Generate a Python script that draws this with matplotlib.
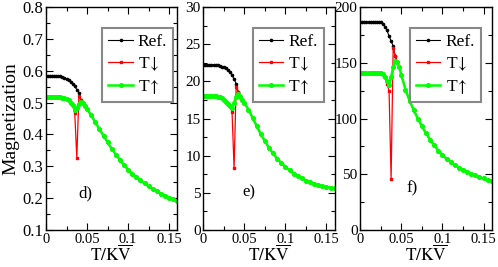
import numpy as np
import matplotlib.pyplot as plt
from matplotlib.ticker import MultipleLocator, FormatStrFormatter

plt.rcParams['font.family'] = ['Liberation Serif', 'DejaVu Serif']
plt.rcParams['mathtext.fontset'] = 'stix'

# temperature grid (T/KV)
T = [0, 0.0025, 0.005, 0.0075, 0.01, 0.0125, 0.015, 0.0175, 0.02, 0.0225,
     0.025, 0.0275, 0.03, 0.0325, 0.035, 0.0375, 0.04, 0.0425, 0.045, 0.0475,
     0.05, 0.055, 0.06, 0.065, 0.07, 0.075, 0.08, 0.085, 0.09, 0.095, 0.1,
     0.105, 0.11, 0.115, 0.12, 0.125, 0.13, 0.135, 0.14, 0.145, 0.15, 0.155, 0.16]

# panel d)
ref_d = [0.585, 0.585, 0.585, 0.585, 0.585, 0.584, 0.583, 0.582, 0.580, 0.578,
         0.575, 0.571, 0.566, 0.559, 0.551, 0.541, 0.531, 0.508, 0.499, 0.490,
         0.480, 0.460, 0.438, 0.417, 0.396, 0.375, 0.355, 0.337, 0.320, 0.304,
         0.289, 0.276, 0.265, 0.256, 0.246, 0.237, 0.229, 0.222, 0.214, 0.208,
         0.202, 0.196, 0.190]
down_d = [0.518, 0.518, 0.518, 0.518, 0.518, 0.518, 0.518, 0.517, 0.516, 0.514,
          0.511, 0.507, 0.500, 0.491, 0.466, 0.327, 0.520, 0.508, 0.499, 0.490,
          0.480, 0.460, 0.438, 0.417, 0.396, 0.375, 0.355, 0.337, 0.320, 0.304,
          0.289, 0.276, 0.265, 0.256, 0.246, 0.237, 0.229, 0.222, 0.214, 0.208,
          0.202, 0.196, 0.190]
up_d = [0.518, 0.518, 0.518, 0.518, 0.518, 0.518, 0.518, 0.517, 0.516, 0.514,
        0.511, 0.507, 0.500, 0.491, 0.478, 0.484, 0.495, 0.501, 0.498, 0.490,
        0.480, 0.460, 0.438, 0.417, 0.396, 0.375, 0.355, 0.337, 0.320, 0.304,
        0.289, 0.276, 0.265, 0.256, 0.246, 0.237, 0.229, 0.222, 0.214, 0.208,
        0.202, 0.196, 0.190]

# panel e)
ref_e = [22.2, 22.2, 22.2, 22.2, 22.2, 22.2, 22.2, 22.15, 22.1, 22.0,
         21.9, 21.75, 21.55, 21.25, 20.8, 20.3, 19.7, 18.6, 18.0, 17.5,
         17.1, 16.2, 15.1, 14.0, 12.9, 11.95, 11.05, 10.3, 9.6, 9.0,
         8.5, 8.05, 7.6, 7.25, 6.95, 6.65, 6.4, 6.2, 6.05, 5.9,
         5.8, 5.7, 5.6]
down_e = [18.0, 18.0, 18.0, 18.0, 18.0, 18.0, 18.0, 17.95, 17.85, 17.7,
          17.5, 17.25, 16.95, 16.65, 15.9, 8.3, 19.3, 18.6, 18.0, 17.5,
          17.1, 16.2, 15.1, 14.0, 12.9, 11.95, 11.05, 10.3, 9.6, 9.0,
          8.5, 8.05, 7.6, 7.25, 6.95, 6.65, 6.4, 6.2, 6.05, 5.9,
          5.8, 5.7, 5.6]
up_e = [18.0, 18.0, 18.0, 18.0, 18.0, 18.0, 18.0, 17.95, 17.85, 17.7,
        17.5, 17.25, 16.95, 16.65, 16.4, 17.1, 17.9, 18.25, 17.9, 17.5,
        17.1, 16.2, 15.1, 14.0, 12.9, 11.95, 11.05, 10.3, 9.6, 9.0,
        8.5, 8.05, 7.6, 7.25, 6.95, 6.65, 6.4, 6.2, 6.05, 5.9,
        5.8, 5.7, 5.6]

# panel f)
ref_f = [186.5, 186.5, 186.5, 186.5, 186.5, 186.5, 186.5, 186.5, 186.5, 186.5,
         186.2, 185.0, 182.5, 179.0, 174.0, 169.5, 165.0, 156.0, 151.0, 146.0,
         139.0, 126.0, 116.0, 107.5, 100.0, 93.0, 86.8, 81.0, 76.0, 71.3,
         67.3, 63.8, 61.0, 58.4, 56.0, 54.0, 52.1, 50.4, 48.9, 47.5,
         46.2, 45.1, 44.1]
down_f = [140.5, 140.5, 140.5, 140.5, 140.5, 140.5, 140.5, 140.5, 140.5, 140.5,
          140.5, 139.5, 137.5, 131.0, 125.0, 46.0, 163.5, 156.0, 151.0, 146.0,
          139.0, 126.0, 116.0, 107.5, 100.0, 93.0, 86.8, 81.0, 76.0, 71.3,
          67.3, 63.8, 61.0, 58.4, 56.0, 54.0, 52.1, 50.4, 48.9, 47.5,
          46.2, 45.1, 44.1]
up_f = [140.5, 140.5, 140.5, 140.5, 140.5, 140.5, 140.5, 140.5, 140.5, 140.5,
        140.5, 139.5, 137.5, 134.0, 130.0, 137.0, 146.0, 152.0, 151.0, 146.0,
        139.0, 126.0, 116.0, 107.5, 100.0, 93.0, 86.8, 81.0, 76.0, 71.3,
        67.3, 63.8, 61.0, 58.4, 56.0, 54.0, 52.1, 50.4, 48.9, 47.5,
        46.2, 45.1, 44.1]

panels = [
    (ref_d, down_d, up_d, 'd)', (0.1, 0.8), 0.1, '%.1f', 12),
    (ref_e, down_e, up_e, 'e)', (0, 30), 5, '%d', 11),
    (ref_f, down_f, up_f, 'f)', (0, 200), 50, '%d', 11),
]
lefts = [0.0924, 0.4082, 0.7235]
tags_pos = [(0.244, 0.166), (0.30, 0.167), (0.35, 0.187)]
leg_right = [0.969, 0.916, 0.919]

fig = plt.figure(figsize=(4.98, 2.67), dpi=100)

for i, (ref, down, up, tag, ylim, ystep, yfmt, yfs) in enumerate(panels):
    ax = fig.add_axes([lefts[i], 0.1386, 0.2639, 0.835])
    ax.plot(T, ref, color='black', lw=0.8, marker='o', ms=1.6, label='Ref.')
    ax.plot(T, down, color='red', lw=0.9, marker='s', ms=2.0, label=r'T$\!\downarrow$')
    ax.plot(T, up, color='#00ff00', lw=1.8, marker='o', ms=2.6, label=r'T$\!\uparrow$')

    ax.set_xlim(0, 0.16)
    ax.set_ylim(*ylim)
    ax.xaxis.set_major_locator(MultipleLocator(0.05))
    ax.xaxis.set_minor_locator(MultipleLocator(0.025))
    ax.xaxis.set_major_formatter(FormatStrFormatter('%g'))
    ax.yaxis.set_major_locator(MultipleLocator(ystep))
    ax.yaxis.set_minor_locator(MultipleLocator(ystep / 2))
    ax.yaxis.set_major_formatter(FormatStrFormatter(yfmt))
    ax.tick_params(which='both', direction='in', top=True, right=True, width=0.8)
    ax.tick_params(which='major', length=5)
    ax.tick_params(which='minor', length=3)
    ax.tick_params(axis='x', labelsize=10.5, pad=2)
    ax.tick_params(axis='y', labelsize=yfs, pad=2)
    for s in ax.spines.values():
        s.set_linewidth(1.0)

    ax.set_xlabel(r'$\mathrm{T/K}\overline{\mathrm{V}}$', fontsize=12.5, labelpad=-1)
    if i == 0:
        ax.set_ylabel('Magnetization', fontsize=14, labelpad=2)

    ax.text(tags_pos[i][0], tags_pos[i][1], tag, transform=ax.transAxes,
            fontsize=12, va='center', ha='left')

    leg = ax.legend(loc='upper right', bbox_to_anchor=(leg_right[i], 0.906),
                    borderaxespad=0, fontsize=12.5, handlelength=1.4,
                    handletextpad=0.3, labelspacing=0.3, borderpad=0.35,
                    fancybox=False, framealpha=1)
    leg.get_frame().set_edgecolor('#888888')
    leg.get_frame().set_linewidth(1.5)

fig.savefig('out.png', dpi=100)
